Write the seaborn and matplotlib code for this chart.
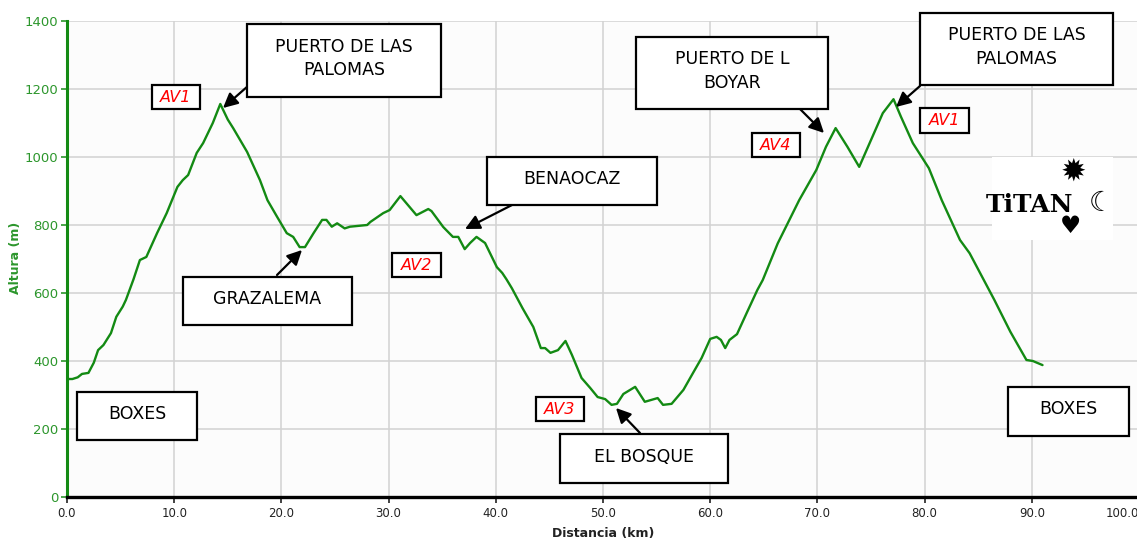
import matplotlib
matplotlib.use("Agg")
import matplotlib.pyplot as plt
from matplotlib.patches import Rectangle
import seaborn as sns
import pandas as pd

# ---------------- data ----------------
distance_km = [0.0, 0.5, 1.0, 1.4, 2.0, 2.5, 2.9, 3.4, 4.1, 4.6, 5.2, 5.5, 6.2, 6.8,
               7.4, 8.4, 9.3, 10.3, 10.8, 11.3, 12.1, 12.7, 13.6, 14.3, 15.0, 15.5,
               16.8, 18.0, 18.7, 19.6, 20.5, 21.1, 21.7, 22.2, 23.0, 23.8, 24.2, 24.7,
               25.2, 25.9, 26.4, 28.0, 28.3, 29.5, 30.1, 31.1, 32.6, 33.7, 34.0, 35.1,
               36.0, 36.5, 37.1, 37.6, 38.2, 39.0, 40.1, 40.6, 41.0, 41.5, 42.5, 43.5,
               44.2, 44.6, 45.1, 45.8, 46.5, 47.1, 48.0, 48.8, 49.5, 50.2, 50.8, 51.3,
               51.9, 53.0, 53.9, 55.1, 55.6, 56.4, 57.5, 58.4, 59.2, 60.0, 60.6, 61.0,
               61.4, 61.8, 62.5, 63.4, 64.4, 64.9, 66.3, 68.3, 69.9, 70.8, 71.7, 72.8,
               73.9, 75.0, 76.1, 77.1, 77.8, 78.9, 80.4, 81.6, 83.3, 84.2, 86.5, 88.0,
               89.5, 90.1, 91.0]
altitude_m = [347, 347, 352, 362, 365, 395, 432, 447, 482, 530, 560, 580, 640, 697,
              706, 776, 835, 912, 932, 947, 1012, 1041, 1100, 1156, 1110, 1085,
              1015, 932, 873, 824, 776, 765, 735, 735, 776, 815, 815, 795,
              805, 790, 795, 800, 809, 835, 844, 885, 829, 847, 841, 794,
              765, 765, 729, 747, 765, 747, 676, 659, 640, 614, 555, 500,
              438, 438, 424, 432, 459, 418, 350, 321, 294, 288, 271, 274,
              303, 324, 280, 291, 271, 274, 315, 365, 409, 465, 471, 462,
              438, 462, 479, 541, 609, 638, 746, 873, 962, 1030, 1085, 1030,
              971, 1050, 1129, 1170, 1118, 1041, 967, 873, 756, 717, 580, 486,
              403, 400, 388]
x_ticks = [0, 10, 20, 30, 40, 50, 60, 70, 80, 90, 100]
y_ticks = [0, 200, 400, 600, 800, 1000, 1200, 1400]
place_labels = ["PUERTO DE LAS\nPALOMAS", "GRAZALEMA", "BENAOCAZ", "EL BOSQUE",
                "PUERTO DE L\nBOYAR", "PUERTO DE LAS\nPALOMAS", "BOXES", "BOXES"]
checkpoint_labels = ["AV1", "AV2", "AV3", "AV4", "AV1"]
x_label = "Distancia (km)"
y_label = "Altura (m)"

# ---------------- layout (figure pixels, origin top-left) ----------------
W, H = 1137, 543
place_boxes = [(247, 24, 441, 97), (183, 277, 352, 325), (487, 157, 657, 205),
               (560, 434, 728, 483), (636, 37, 828, 109), (920, 13, 1113, 85),
               (77, 392, 197, 440), (1008, 387, 1129, 436)]
place_arrows = [((248, 86), (223, 108)), ((277, 275), (302, 250)),
                ((512, 205), (465, 229)), ((640, 433), (616, 408)),
                ((800, 109), (824, 133)), ((920, 86), (896, 107)), None, None]
checkpoint_boxes = [(152, 85, 200, 109), (392, 253, 441, 277), (536, 397, 584, 421),
                    (752, 133, 800, 157), (920, 108, 969, 133)]

GREEN = "#138a13"
TICKGREEN = "#2c962c"

sns.set_style("white")
plt.rcParams["font.family"] = ["DejaVu Sans"]

fig = plt.figure(figsize=(W / 100, H / 100), dpi=100)
fig.patch.set_facecolor("white")


def F(x, y):
    return (x / W, 1 - y / H)


ax = fig.add_axes([67 / W, 1 - 497 / H, (1139 - 67) / W, (497 - 21) / H])
ax.set_facecolor("#fcfcfc")

df = pd.DataFrame({"km": distance_km, "alt": altitude_m})
sns.lineplot(data=df, x="km", y="alt", ax=ax, color=GREEN, linewidth=1.7,
             estimator=None, sort=False, zorder=3)

ax.set_xlim(0, 100)
ax.set_ylim(0, 1400)
ax.set_xticks(x_ticks)
ax.set_yticks(y_ticks)
ax.set_xticklabels([f"{t:.1f}" for t in x_ticks])
ax.set_yticklabels([str(t) for t in y_ticks])
ax.grid(True, color="#d2d2d2", linewidth=1.1, zorder=0)
ax.set_axisbelow(True)
ax.set_xlabel("")
ax.set_ylabel("")
for s in ["top", "right"]:
    ax.spines[s].set_visible(False)
ax.spines["left"].set_color(GREEN)
ax.spines["left"].set_linewidth(2.2)
ax.spines["bottom"].set_color("black")
ax.spines["bottom"].set_linewidth(2.4)
ax.tick_params(axis="y", colors=TICKGREEN, labelsize=9.5, length=4, width=1.2,
               direction="out", pad=2, left=True)
ax.tick_params(axis="x", colors="#222222", labelsize=8.5, length=4, width=1.2,
               direction="out", pad=3, bottom=True)
# keep the last tick label inside the figure
ax.get_xticklabels()[-1].set_horizontalalignment("right")

fig.text(*F(15, 258), y_label, rotation=90, ha="center", va="center",
         color=TICKGREEN, fontsize=9, fontweight="bold")
fig.text(*F(603, 534), x_label, ha="center", va="center",
         color="#222222", fontsize=9, fontweight="bold")

# place callouts
for lab, (x0, y0, x1, y1), arr in zip(place_labels, place_boxes, place_arrows):
    rect = Rectangle(F(x0, y1), (x1 - x0) / W, (y1 - y0) / H,
                     transform=fig.transFigure, facecolor="white",
                     edgecolor="black", linewidth=1.6, zorder=5)
    fig.add_artist(rect)
    cx, cy = (x0 + x1) / 2, (y0 + y1) / 2 - 2
    fig.text(*F(cx, cy), lab, ha="center", va="center", fontsize=12.5,
             color="black", linespacing=1.4, zorder=6)
    if arr is not None:
        (tx, ty), (hx, hy) = arr
        ax.annotate("", xy=F(hx, hy), xycoords="figure fraction",
                    xytext=F(tx, ty), textcoords="figure fraction",
                    arrowprops=dict(arrowstyle="-|>", color="black", lw=1.6,
                                    mutation_scale=22, shrinkA=0, shrinkB=0),
                    annotation_clip=False, zorder=6)

# checkpoint labels
for lab, (x0, y0, x1, y1) in zip(checkpoint_labels, checkpoint_boxes):
    rect = Rectangle(F(x0, y1), (x1 - x0) / W, (y1 - y0) / H,
                     transform=fig.transFigure, facecolor="white",
                     edgecolor="black", linewidth=1.6, zorder=5)
    fig.add_artist(rect)
    fig.text(*F((x0 + x1) / 2, (y0 + y1) / 2), lab, ha="center", va="center",
             fontsize=11.5, color="red", style="italic", zorder=6)

# logo
logo = Rectangle(F(992, 240), (1113 - 992) / W, (240 - 157) / H,
                 transform=fig.transFigure, facecolor="white", edgecolor="none",
                 zorder=5)
fig.add_artist(logo)
fig.text(*F(1030, 205), "TiTAN", ha="center", va="center", fontsize=18,
         fontweight="bold", family="DejaVu Serif", color="black", zorder=6)
fig.text(*F(1074, 172), "\u2739", ha="center", va="center", fontsize=22,
         color="black", zorder=6)
fig.text(*F(1070, 226), "\u2665", ha="center", va="center", fontsize=17,
         color="black", zorder=6)
fig.text(*F(1101, 203), "\u263E", ha="center", va="center", fontsize=20,
         color="black", zorder=6)

fig.savefig("out.png", dpi=100, facecolor="white")
